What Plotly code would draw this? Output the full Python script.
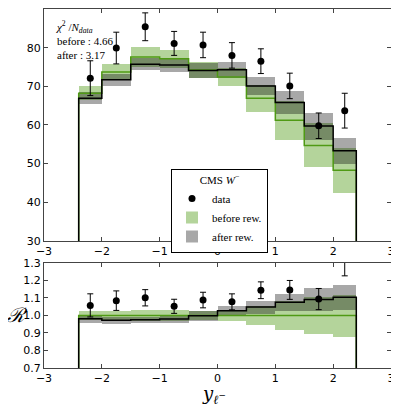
import plotly.graph_objects as go
from plotly.subplots import make_subplots

# lepton rapidity bins
bin_lo = [-2.4, -2.0, -1.5, -1.0, -0.5, 0.0, 0.5, 1.0, 1.5, 2.0]
bin_hi = [-2.0, -1.5, -1.0, -0.5, 0.0, 0.5, 1.0, 1.5, 2.0, 2.4]

# CMS W- data
data_val = [72.1, 79.9, 85.4, 81.1, 80.7, 78.0, 76.5, 70.1, 59.8, 63.7]
data_err = [4.5, 4.1, 3.6, 3.1, 3.3, 3.3, 3.2, 3.3, 3.3, 4.5]

# prediction before reweighting (central + half width of band)
before_val = [68.2, 73.7, 77.6, 77.1, 74.2, 72.4, 66.9, 61.2, 54.7, 48.3]
before_err = [1.8, 2.0, 2.5, 2.4, 2.0, 2.3, 3.5, 5.0, 5.7, 5.8]

# prediction after reweighting
after_val = [66.9, 71.7, 75.7, 75.5, 74.1, 74.3, 70.1, 65.8, 59.7, 53.3]
after_err = [1.5, 1.5, 1.5, 1.7, 2.0, 2.1, 2.4, 3.0, 3.5, 3.4]

chi2_before = 4.66
chi2_after = 3.17

centers = [(a + b) / 2 for a, b in zip(bin_lo, bin_hi)]
widths = [b - a for a, b in zip(bin_lo, bin_hi)]

# ratios to the central "before" prediction
r_data = [d / b for d, b in zip(data_val, before_val)]
r_data_err = [e / b for e, b in zip(data_err, before_val)]
r_before = [1.0 for b in before_val]
r_before_err = [e / b for e, b in zip(before_err, before_val)]
r_after = [a / b for a, b in zip(after_val, before_val)]
r_after_err = [e / b for e, b in zip(after_err, before_val)]

GREEN_BAND = "rgba(106,170,56,0.5)"
GRAY_BAND = "rgba(0,0,0,0.34)"
GREEN_LINE = "#4f9a14"
SERIF = "Liberation Serif"
SANS = "DejaVu Sans"


def step_xy(vals):
    x = [bin_lo[0]] + bin_lo + [bin_hi[-1], bin_hi[-1]]
    y = [0] + vals + [vals[-1], 0]
    return x, y


fig = make_subplots(rows=2, cols=1, shared_xaxes=False)

panels = [
    (1, data_val, data_err, before_val, before_err, after_val, after_err),
    (2, r_data, r_data_err, r_before, r_before_err, r_after, r_after_err),
]

for row, dv, de, bv, be, av, ae in panels:
    show = row == 1
    # bands
    fig.add_trace(go.Bar(x=centers, width=widths,
                         base=[v - e for v, e in zip(bv, be)],
                         y=[2 * e for e in be],
                         marker=dict(color=GREEN_BAND, line=dict(width=0)),
                         name="before rew.", legendrank=2, showlegend=show),
                  row=row, col=1)
    fig.add_trace(go.Bar(x=centers, width=widths,
                         base=[v - e for v, e in zip(av, ae)],
                         y=[2 * e for e in ae],
                         marker=dict(color=GRAY_BAND, line=dict(width=0)),
                         name="after rew.", legendrank=3, showlegend=show),
                  row=row, col=1)
    # central lines
    sx, sy = step_xy(bv)
    fig.add_trace(go.Scatter(x=sx, y=sy, mode="lines", line_shape="hv",
                             line=dict(color=GREEN_LINE, width=1.5),
                             showlegend=False, hoverinfo="skip"),
                  row=row, col=1)
    sx, sy = step_xy(av)
    fig.add_trace(go.Scatter(x=sx, y=sy, mode="lines", line_shape="hv",
                             line=dict(color="black", width=1.5),
                             showlegend=False, hoverinfo="skip"),
                  row=row, col=1)
    # data
    fig.add_trace(go.Scatter(x=centers, y=dv, mode="markers",
                             marker=dict(color="black", size=7),
                             error_y=dict(type="data", array=de, color="black",
                                          thickness=1, width=3),
                             name="data", legendrank=1, showlegend=show),
                  row=row, col=1)

axis_style = dict(showline=True, linecolor="#444", linewidth=1, mirror="ticks",
                  ticks="inside", ticklen=4, tickcolor="#444", showgrid=False,
                  zeroline=False, automargin=False,
                  tickfont=dict(family=SANS, size=11, color="black"))

fig.update_xaxes(range=[-3, 3], dtick=1, domain=[0, 1], **axis_style)
fig.update_yaxes(range=[30, 90], dtick=10, domain=[0.354, 1], row=1, col=1, **axis_style)
fig.update_yaxes(range=[0.7, 1.3], dtick=0.1, tickformat=".1f", domain=[0, 0.293],
                 row=2, col=1, **axis_style)

# axis titles
fig.add_annotation(xref="paper", yref="paper", x=0.49, y=-0.075,
                   xanchor="center", yanchor="middle", showarrow=False,
                   text="<i>y</i><sub><i>ℓ</i><sup>−</sup></sub>",
                   font=dict(family="DejaVu Serif", size=18, color="black"))
fig.add_annotation(xref="paper", yref="paper", x=-0.076, y=0.148,
                   xanchor="center", yanchor="middle", showarrow=False,
                   text="<i>ℛ</i>",
                   font=dict(family="DejaVu Serif", size=20, color="black"))

fig.add_annotation(xref="paper", yref="paper", x=0.03, y=0.978,
                   xanchor="left", yanchor="top", align="left", showarrow=False,
                   text=("<i>χ</i><sup>2</sup> /<i>N</i><sub><i>data</i></sub><br>"
                         "before : %.2f<br>after : %.2f" % (chi2_before, chi2_after)),
                   font=dict(family=SERIF, size=11, color="black"))

# page body has an 8px margin, so the figure is shifted/shrunk by that much
fig.update_layout(
    width=391, height=400,
    margin=dict(l=36, r=8, t=1, b=40),
    barmode="overlay", bargap=0,
    plot_bgcolor="white", paper_bgcolor="white",
    legend=dict(x=0.366, y=0.555, xanchor="left", yanchor="top",
                bgcolor="white", bordercolor="black", borderwidth=1,
                font=dict(family=SERIF, size=11, color="black"),
                title=dict(text="CMS <i>W</i><sup>−</sup>", side="top center",
                           font=dict(family=SERIF, size=11, color="black")),
                tracegroupgap=0, itemwidth=30),
)

fig.write_html("out.html")
